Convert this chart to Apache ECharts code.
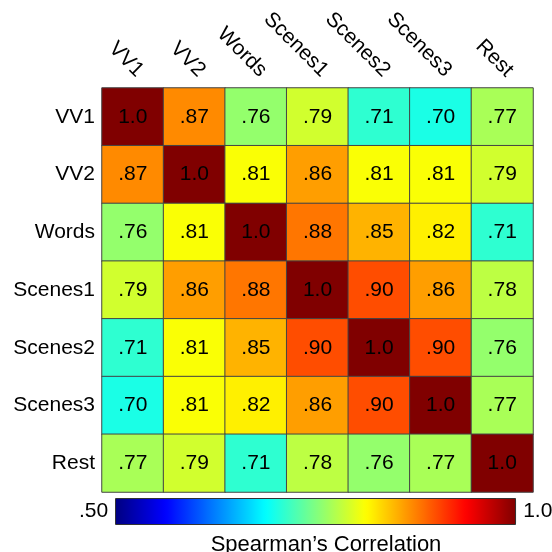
<!DOCTYPE html>
<html>
<head>
<meta charset="utf-8">
<script src="https://cdn.jsdelivr.net/npm/echarts@6/dist/echarts.min.js"></script>
<style>
  html, body { margin: 0; padding: 0; background: #fff; }
  #chart { width: 552px; height: 552px; }
</style>
</head>
<body>
<div id="chart"></div>
<script>
// Measures compared pairwise
const measures = ['VV1', 'VV2', 'Words', 'Scenes1', 'Scenes2', 'Scenes3', 'Rest'];

// Spearman correlation, one row per measure
const rowVV1     = [1.0, 0.87, 0.76, 0.79, 0.71, 0.70, 0.77];
const rowVV2     = [0.87, 1.0, 0.81, 0.86, 0.81, 0.81, 0.79];
const rowWords   = [0.76, 0.81, 1.0, 0.88, 0.85, 0.82, 0.71];
const rowScenes1 = [0.79, 0.86, 0.88, 1.0, 0.90, 0.86, 0.78];
const rowScenes2 = [0.71, 0.81, 0.85, 0.90, 1.0, 0.90, 0.76];
const rowScenes3 = [0.70, 0.81, 0.82, 0.86, 0.90, 1.0, 0.77];
const rowRest    = [0.77, 0.79, 0.71, 0.78, 0.76, 0.77, 1.0];

// Colour scale limits and their labels
const scaleMin = 0.5;
const scaleMax = 1.0;
const scaleLabels = ['1.0', '.50'];
const scaleTitle = 'Spearman\u2019s Correlation';

const rows = [rowVV1, rowVV2, rowWords, rowScenes1, rowScenes2, rowScenes3, rowRest];
const cells = [];
rows.forEach((row, r) => row.forEach((v, c) => cells.push([c, r, v])));

function fmt(v) {
  return v >= 1 ? '1.0' : '.' + String(Math.round(v * 100)).padStart(2, '0');
}

const FONT = '"Liberation Sans", Arial, Helvetica, sans-serif';
const jet = ['#000080', '#0000ff', '#0080ff', '#00ffff', '#80ff80',
             '#ffff00', '#ff8000', '#ff0000', '#800000'];

const chart = echarts.init(document.getElementById('chart'), null, { renderer: 'canvas' });
chart.setOption({
  animation: false,
  backgroundColor: '#ffffff',
  textStyle: { fontFamily: FONT },
  grid: { left: 102, top: 88, width: 431, height: 404 },
  xAxis: {
    type: 'category',
    position: 'top',
    data: measures,
    axisLine: { show: false },
    axisTick: { show: false },
    splitLine: { show: false },
    axisLabel: {
      interval: 0,
      rotate: 45,
      margin: 7,
      align: 'right',
      verticalAlign: 'bottom',
      hideOverlap: false,
      color: '#000',
      fontSize: 21,
      fontFamily: FONT
    }
  },
  yAxis: {
    type: 'category',
    inverse: true,
    data: measures,
    axisLine: { show: false },
    axisTick: { show: false },
    splitLine: { show: false },
    axisLabel: { interval: 0, margin: 7, color: '#000', fontSize: 21, fontFamily: FONT }
  },
  visualMap: {
    type: 'continuous',
    min: scaleMin,
    max: scaleMax,
    orient: 'horizontal',
    calculable: false,
    hoverLink: false,
    padding: 0,
    left: 79,
    top: 498,
    itemWidth: 27,
    itemHeight: 401,
    text: scaleLabels,
    textGap: 7,
    textStyle: { color: '#000', fontSize: 21, fontFamily: FONT },
    inRange: { color: jet }
  },
  graphic: [
    {
      type: 'rect',
      shape: { x: 115.5, y: 498.5, width: 400, height: 26 },
      style: { fill: 'none', stroke: '#333', lineWidth: 1 },
      silent: true, z: 100
    },
    {
      type: 'text',
      x: 326, y: 534,
      style: { text: scaleTitle, fill: '#000', font: '22px ' + FONT, textAlign: 'center', textVerticalAlign: 'top' },
      silent: true
    }
  ],
  series: [{
    type: 'heatmap',
    data: cells,
    itemStyle: { borderColor: '#444', borderWidth: 1 },
    label: {
      show: true,
      color: '#000',
      fontSize: 21,
      fontFamily: FONT,
      formatter: p => fmt(p.value[2])
    },
    emphasis: { disabled: true }
  }]
});
</script>
</body>
</html>
